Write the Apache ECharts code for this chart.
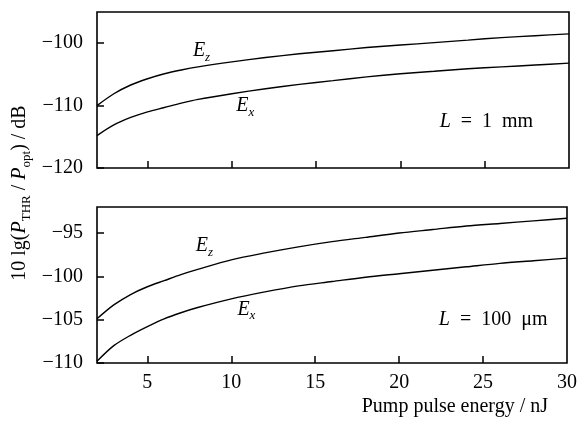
<!DOCTYPE html>
<html>
<head>
<meta charset="utf-8">
<script src="https://cdn.jsdelivr.net/npm/echarts@6/dist/echarts.min.js"></script>
<style>
  html, body { margin: 0; padding: 0; background: #fff; }
  #chart { width: 580px; height: 427px; }
</style>
</head>
<body>
<div id="chart"></div>
<script>
// Pump pulse energy (nJ)
const energy = [2, 3, 4, 5, 6, 7, 8, 10, 12, 14, 16, 18, 20, 22, 24, 26, 28, 30];

// L = 1 mm
const ez1mm = [-110.0, -108.1, -106.7, -105.7, -104.9, -104.3, -103.8, -103.0, -102.3,
               -101.7, -101.2, -100.7, -100.3, -99.9, -99.5, -99.1, -98.8, -98.5];
const ex1mm = [-114.8, -113.1, -111.9, -111.0, -110.3, -109.6, -109.0, -108.1, -107.3,
               -106.6, -106.0, -105.4, -104.9, -104.5, -104.1, -103.8, -103.5, -103.2];

// L = 100 um
const ez100um = [-104.9, -103.3, -102.1, -101.2, -100.5, -99.8, -99.2, -98.1, -97.3,
                 -96.6, -96.0, -95.5, -95.0, -94.6, -94.2, -93.9, -93.6, -93.3];
const ex100um = [-109.8, -108.0, -106.8, -105.8, -104.9, -104.2, -103.6, -102.6, -101.8,
                 -101.1, -100.6, -100.1, -99.7, -99.3, -98.9, -98.5, -98.2, -97.9];

// Tick values
const xTicks = [5, 10, 15, 20, 25, 30];
const yTicksTop = [-120, -110, -100];
const yTicksBottom = [-110, -105, -100, -95];

const FONT = '"Liberation Serif", "DejaVu Serif", serif';
const minus = v => String(v).replace('-', '\u2212');

const pairs = ys => energy.map((x, i) => [x, ys[i]]);

const lineSeries = (ys, k) => ({
  type: 'line',
  xAxisIndex: k, yAxisIndex: k,
  data: pairs(ys),
  smooth: 0.3,
  showSymbol: false,
  silent: true,
  lineStyle: { color: '#000', width: 1.4 }
});

const grids = [
  { left: 97, right: 11, top: 12, height: 156 },
  { left: 97, right: 11, top: 207, height: 156 }
];

const xAxis = (k, withLabels) => ({
  type: 'value', gridIndex: k, min: 2, max: 30,
  axisLine: { show: false },
  splitLine: { show: false },
  axisTick: { inside: true, length: 7, customValues: [5, 10, 15, 20, 25],
              lineStyle: { color: '#000', width: 1.5 } },
  axisLabel: { show: withLabels, customValues: xTicks, margin: 10,
               fontFamily: FONT, fontSize: 20, color: '#000' }
});

const yAxis = (k, min, max, ticks) => ({
  type: 'value', gridIndex: k, min: min, max: max,
  axisLine: { show: false },
  splitLine: { show: false },
  axisTick: { inside: true, length: 7, customValues: ticks,
              lineStyle: { color: '#000', width: 1.5 } },
  axisLabel: { customValues: ticks, margin: 14, formatter: minus,
               fontFamily: FONT, fontSize: 20, color: '#000' }
});

const chart = echarts.init(document.getElementById('chart'), null, { renderer: 'canvas' });

chart.setOption({
  animation: false,
  backgroundColor: '#fff',
  grid: grids.map(g => Object.assign({ show: true, borderColor: '#000', borderWidth: 1.6,
                                       backgroundColor: 'transparent' }, g)),
  xAxis: [xAxis(0, false), xAxis(1, true)],
  yAxis: [yAxis(0, -120, -95, yTicksTop), yAxis(1, -110, -92, yTicksBottom)],
  series: [
    lineSeries(ez1mm, 0), lineSeries(ex1mm, 0),
    lineSeries(ez100um, 1), lineSeries(ex100um, 1)
  ]
});

// Text annotations placed in data coordinates of each panel
const richStyles = {
  i: { fontFamily: FONT, fontStyle: 'italic', fontSize: 20, lineHeight: 26, verticalAlign: 'middle' },
  s: { fontFamily: FONT, fontStyle: 'italic', fontSize: 13, verticalAlign: 'bottom' },
  r: { fontFamily: FONT, fontSize: 20, lineHeight: 26, verticalAlign: 'middle' },
  rs: { fontFamily: FONT, fontSize: 13, verticalAlign: 'bottom' }
};

const notes = [
  { grid: 0, at: [8.2, -101.2], text: '{i|E}{s|z}' },
  { grid: 0, at: [10.8, -110.0], text: '{i|E}{s|x}' },
  { grid: 0, at: [25.1, -112.6], text: '{i|L}{r|  =  1  mm}' },
  { grid: 1, at: [8.4, -96.5], text: '{i|E}{s|z}' },
  { grid: 1, at: [10.9, -103.8], text: '{i|E}{s|x}' },
  { grid: 1, at: [25.6, -105.0], text: '{i|L}{r|  =  100  \u03bcm}' }
];

const graphic = notes.map(n => {
  const p = chart.convertToPixel({ gridIndex: n.grid }, n.at);
  return {
    type: 'text', x: p[0], y: p[1], silent: true,
    style: { text: n.text, rich: richStyles, fill: '#000',
             align: 'center', verticalAlign: 'middle' }
  };
});

// Shared y-axis title
graphic.push({
  type: 'text', x: 20, y: 193, rotation: Math.PI / 2, silent: true,
  style: {
    text: '{r|10 lg(}{i|P}{rs|THR}{r| / }{i|P}{rs|opt}{r|) / dB}',
    rich: richStyles, fill: '#000', align: 'center', verticalAlign: 'middle'
  }
});

// x-axis title
graphic.push({
  type: 'text', x: 548, y: 407, silent: true,
  style: {
    text: 'Pump pulse energy / nJ', fill: '#000',
    font: '20px ' + FONT, align: 'right', verticalAlign: 'middle'
  }
});

chart.setOption({ graphic: graphic });
</script>
</body>
</html>
